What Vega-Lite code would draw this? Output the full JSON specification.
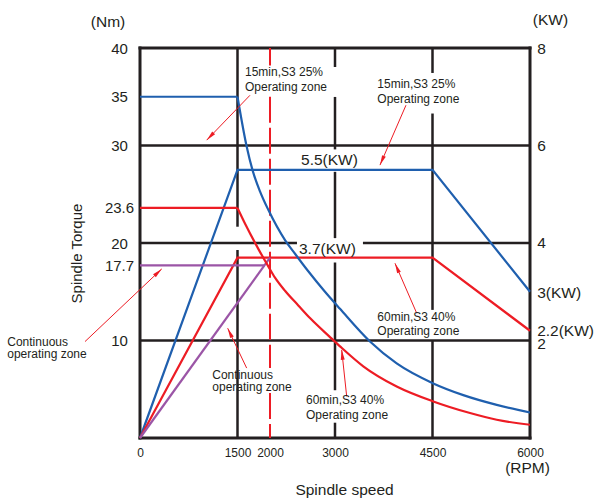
{
  "$schema": "https://vega.github.io/schema/vega-lite/v6.json",
  "width": 390,
  "height": 390,
  "autosize": {"type": "none"},
  "padding": {"left": 140, "top": 48, "right": 68, "bottom": 61},
  "background": "white",
  "config": {
    "font": "Liberation Sans",
    "view": {"stroke": null},
    "axis": {"labelColor": "#231f20", "titleColor": "#231f20"}
  },
  "datasets": {
    "frame": [
      {"rpm": 0, "rpm2": 6000, "nm": 0, "nm2": 0},
      {"rpm": 0, "rpm2": 6000, "nm": 40, "nm2": 40},
      {"rpm": 0, "rpm2": 0, "nm": 0, "nm2": 40},
      {"rpm": 6000, "rpm2": 6000, "nm": 0, "nm2": 40}
    ],
    "grid": [
      {"rpm": 0, "rpm2": 6000, "nm": 10, "nm2": 10},
      {"rpm": 0, "rpm2": 2415, "nm": 20, "nm2": 20},
      {"rpm": 3430, "rpm2": 6000, "nm": 20, "nm2": 20},
      {"rpm": 0, "rpm2": 6000, "nm": 30, "nm2": 30},
      {"rpm": 1500, "rpm2": 1500, "nm": 21.67, "nm2": 40},
      {"rpm": 1500, "rpm2": 1500, "nm": 0, "nm2": 19.28},
      {"rpm": 3000, "rpm2": 3000, "nm": 38.05, "nm2": 40},
      {"rpm": 3000, "rpm2": 3000, "nm": 29.6, "nm2": 34.98},
      {"rpm": 3000, "rpm2": 3000, "nm": 20.5, "nm2": 27.3},
      {"rpm": 3000, "rpm2": 3000, "nm": 4.9, "nm2": 18.0},
      {"rpm": 3000, "rpm2": 3000, "nm": 0, "nm2": 1.57},
      {"rpm": 4500, "rpm2": 4500, "nm": 37.44, "nm2": 40},
      {"rpm": 4500, "rpm2": 4500, "nm": 13.14, "nm2": 33.28},
      {"rpm": 4500, "rpm2": 4500, "nm": 0, "nm2": 10}
    ],
    "limit2000": [
      {"rpm": 2000, "rpm2": 2000, "nm": 40, "nm2": 38.2},
      {"rpm": 2000, "rpm2": 2000, "nm": 35.0, "nm2": 7.18},
      {"rpm": 2000, "rpm2": 2000, "nm": 4.61, "nm2": 0}
    ],
    "straight": [
      {"seg": "blue-flat", "zone": "S3 15min 25%", "i": 0, "rpm": 0, "nm": 35},
      {"seg": "blue-flat", "zone": "S3 15min 25%", "i": 1, "rpm": 1500, "nm": 35},
      {"seg": "blue-power", "zone": "S3 15min 25%", "i": 0, "rpm": 0, "nm": 0},
      {"seg": "blue-power", "zone": "S3 15min 25%", "i": 1, "rpm": 1500, "nm": 27.5},
      {"seg": "blue-power", "zone": "S3 15min 25%", "i": 2, "rpm": 4500, "nm": 27.5},
      {"seg": "blue-power", "zone": "S3 15min 25%", "i": 3, "rpm": 6000, "nm": 15},
      {"seg": "red-flat", "zone": "S3 60min 40%", "i": 0, "rpm": 0, "nm": 23.6},
      {"seg": "red-flat", "zone": "S3 60min 40%", "i": 1, "rpm": 1500, "nm": 23.6},
      {"seg": "red-power", "zone": "S3 60min 40%", "i": 0, "rpm": 0, "nm": 0},
      {"seg": "red-power", "zone": "S3 60min 40%", "i": 1, "rpm": 1500, "nm": 18.5},
      {"seg": "red-power", "zone": "S3 60min 40%", "i": 2, "rpm": 4500, "nm": 18.5},
      {"seg": "red-power", "zone": "S3 60min 40%", "i": 3, "rpm": 6000, "nm": 11},
      {"seg": "purple-flat", "zone": "Continuous", "i": 0, "rpm": 0, "nm": 17.7},
      {"seg": "purple-flat", "zone": "Continuous", "i": 1, "rpm": 1914, "nm": 17.7},
      {"seg": "purple-rise", "zone": "Continuous", "i": 0, "rpm": 0, "nm": 0},
      {"seg": "purple-rise", "zone": "Continuous", "i": 1, "rpm": 2000, "nm": 18.5}
    ],
    "curves": [
      {"zone": "S3 15min 25%", "rpm": 1500, "nm": 35.0},
      {"zone": "S3 15min 25%", "rpm": 1641, "nm": 29.9},
      {"zone": "S3 15min 25%", "rpm": 1730, "nm": 27.5},
      {"zone": "S3 15min 25%", "rpm": 1846, "nm": 25.3},
      {"zone": "S3 15min 25%", "rpm": 1974, "nm": 23.4},
      {"zone": "S3 15min 25%", "rpm": 2231, "nm": 20.3},
      {"zone": "S3 15min 25%", "rpm": 2385, "nm": 18.9},
      {"zone": "S3 15min 25%", "rpm": 2589, "nm": 17.1},
      {"zone": "S3 15min 25%", "rpm": 2846, "nm": 15.0},
      {"zone": "S3 15min 25%", "rpm": 3077, "nm": 13.25},
      {"zone": "S3 15min 25%", "rpm": 3538, "nm": 9.9},
      {"zone": "S3 15min 25%", "rpm": 3949, "nm": 7.65},
      {"zone": "S3 15min 25%", "rpm": 4512, "nm": 5.6},
      {"zone": "S3 15min 25%", "rpm": 4974, "nm": 4.4},
      {"zone": "S3 15min 25%", "rpm": 5488, "nm": 3.4},
      {"zone": "S3 15min 25%", "rpm": 6000, "nm": 2.62},
      {"zone": "S3 60min 40%", "rpm": 1500, "nm": 23.6},
      {"zone": "S3 60min 40%", "rpm": 1615, "nm": 22.0},
      {"zone": "S3 60min 40%", "rpm": 1820, "nm": 19.4},
      {"zone": "S3 60min 40%", "rpm": 1974, "nm": 17.6},
      {"zone": "S3 60min 40%", "rpm": 2077, "nm": 16.45},
      {"zone": "S3 60min 40%", "rpm": 2231, "nm": 15.1},
      {"zone": "S3 60min 40%", "rpm": 2435, "nm": 13.6},
      {"zone": "S3 60min 40%", "rpm": 2615, "nm": 12.3},
      {"zone": "S3 60min 40%", "rpm": 2923, "nm": 10.35},
      {"zone": "S3 60min 40%", "rpm": 3077, "nm": 9.4},
      {"zone": "S3 60min 40%", "rpm": 3435, "nm": 7.35},
      {"zone": "S3 60min 40%", "rpm": 3949, "nm": 5.28},
      {"zone": "S3 60min 40%", "rpm": 4512, "nm": 3.75},
      {"zone": "S3 60min 40%", "rpm": 5077, "nm": 2.56},
      {"zone": "S3 60min 40%", "rpm": 5488, "nm": 1.87},
      {"zone": "S3 60min 40%", "rpm": 6000, "nm": 1.36}
    ],
    "arrows": [
      {"id": "a1", "rpm": 1692, "nm": 35.15, "rpm2": 1026, "nm2": 30.55},
      {"id": "a2", "rpm": 4092, "nm": 34.13, "rpm2": 3692, "nm2": 27.99},
      {"id": "a3", "rpm": -846, "nm": 9.89, "rpm2": 334, "nm2": 17.34},
      {"id": "a4", "rpm": 1641, "nm": 7.17, "rpm2": 1349, "nm2": 11.26},
      {"id": "a5", "rpm": 4257, "nm": 12.8, "rpm2": 3923, "nm2": 17.92},
      {"id": "a6", "rpm": 3180, "nm": 4.26, "rpm2": 3103, "nm2": 9.04}
    ],
    "notes": [
      {"rpm": 1615, "nm": 37.54, "text": "15min,S3 25%"},
      {"rpm": 1615, "nm": 36.0, "text": "Operating zone"},
      {"rpm": 3651, "nm": 36.35, "text": "15min,S3 25%"},
      {"rpm": 3651, "nm": 34.75, "text": "Operating zone"},
      {"rpm": -2042, "nm": 9.83, "text": "Continuous"},
      {"rpm": -2042, "nm": 8.6, "text": "operating zone"},
      {"rpm": 1112, "nm": 6.48, "text": "Continuous"},
      {"rpm": 1112, "nm": 5.28, "text": "operating zone"},
      {"rpm": 3651, "nm": 12.45, "text": "60min,S3 40%"},
      {"rpm": 3651, "nm": 11.02, "text": "Operating zone"},
      {"rpm": 2554, "nm": 3.85, "text": "60min,S3 40%"},
      {"rpm": 2554, "nm": 2.39, "text": "Operating zone"}
    ],
    "leftlabels": [
      {"rpm": 2477, "nm": 28.53, "text": "5.5(KW)"},
      {"rpm": 2446, "nm": 19.39, "text": "3.7(KW)"},
      {"rpm": 6110, "nm": 39.9, "text": "8"},
      {"rpm": 6110, "nm": 30.0, "text": "6"},
      {"rpm": 6110, "nm": 20.0, "text": "4"},
      {"rpm": 6110, "nm": 14.88, "text": "3(KW)"},
      {"rpm": 6110, "nm": 11.0, "text": "2.2(KW)"},
      {"rpm": 6110, "nm": 9.66, "text": "2"}
    ],
    "units": [
      {"rpm": -492, "nm": 42.66, "text": "(Nm)"},
      {"rpm": 6315, "nm": 42.84, "text": "(KW)"},
      {"rpm": 5962, "nm": -3.07, "text": "(RPM)"}
    ]
  },
  "layer": [
    {
      "data": {"name": "grid"},
      "mark": {"type": "rule", "stroke": "#231f20", "strokeWidth": 2.5},
      "encoding": {
        "x": {
          "field": "rpm", "type": "quantitative",
          "scale": {"domain": [0, 6000], "nice": false, "zero": false},
          "axis": {
            "values": [0, 1500, 2000, 3000, 4500, 6000], "format": "d",
            "domain": false, "ticks": false, "tickSize": 0, "grid": false,
            "labelFontSize": 12, "labelPadding": 14, "labelBaseline": "middle",
            "labelFlush": false, "labelOverlap": false,
            "title": "Spindle speed", "titleFontSize": 15.5, "titleFontWeight": "normal",
            "titleX": 204, "titleY": 51, "titleBaseline": "middle", "titleAlign": "center"
          }
        },
        "x2": {"field": "rpm2"},
        "y": {
          "field": "nm", "type": "quantitative",
          "scale": {"domain": [0, 40], "nice": false, "zero": false},
          "axis": {
            "values": [10, 17.7, 20, 23.6, 30, 35, 40], "format": ".1~f",
            "domain": false, "ticks": false, "tickSize": 0, "grid": false,
            "labelFontSize": 15, "labelPadding": 21, "labelAlign": "center",
            "labelBaseline": "middle", "labelFlush": false, "labelOverlap": false,
            "title": "Spindle Torque", "titleFontSize": 15, "titleFontWeight": "normal",
            "titleX": -64, "titleY": 205, "titleAlign": "center", "titleBaseline": "middle", "titleAngle": 270
          }
        },
        "y2": {"field": "nm2"}
      }
    },
    {
      "data": {"name": "frame"},
      "mark": {"type": "rule", "stroke": "#231f20", "strokeWidth": 3, "strokeCap": "square"},
      "encoding": {
        "x": {"field": "rpm", "type": "quantitative"},
        "x2": {"field": "rpm2"},
        "y": {"field": "nm", "type": "quantitative"},
        "y2": {"field": "nm2"}
      }
    },
    {
      "data": {"name": "limit2000"},
      "mark": {"type": "rule", "stroke": "#ed1c24", "strokeWidth": 2, "strokeDash": [26, 5]},
      "encoding": {
        "x": {"field": "rpm", "type": "quantitative"},
        "x2": {"field": "rpm2"},
        "y": {"field": "nm", "type": "quantitative"},
        "y2": {"field": "nm2"}
      }
    },
    {
      "data": {"name": "straight"},
      "mark": {"type": "line", "strokeWidth": 2.2, "interpolate": "linear"},
      "encoding": {
        "x": {"field": "rpm", "type": "quantitative"},
        "y": {"field": "nm", "type": "quantitative"},
        "detail": {"field": "seg"},
        "order": {"field": "i"},
        "color": {
          "field": "zone", "type": "nominal",
          "scale": {"domain": ["S3 15min 25%", "S3 60min 40%", "Continuous"], "range": ["#1f5fae", "#ed1c24", "#9b55a6"]},
          "legend": null
        }
      }
    },
    {
      "data": {"name": "curves"},
      "mark": {"type": "line", "strokeWidth": 2.2, "interpolate": "monotone"},
      "encoding": {
        "x": {"field": "rpm", "type": "quantitative"},
        "y": {"field": "nm", "type": "quantitative"},
        "color": {"field": "zone", "type": "nominal", "legend": null}
      }
    },
    {
      "data": {"name": "arrows"},
      "mark": {"type": "rule", "stroke": "#ed1c24", "strokeWidth": 1},
      "encoding": {
        "x": {"field": "rpm", "type": "quantitative"},
        "x2": {"field": "rpm2"},
        "y": {"field": "nm", "type": "quantitative"},
        "y2": {"field": "nm2"}
      }
    },
    {
      "data": {"name": "arrows"},
      "transform": [{"filter": "datum.id === 'a1'"}],
      "mark": {"type": "point", "shape": "M0,0L0.4,2L-0.4,2Z", "size": 100, "filled": true, "fill": "#ed1c24", "strokeWidth": 0, "opacity": 1, "angle": 224},
      "encoding": {"x": {"field": "rpm2", "type": "quantitative"}, "y": {"field": "nm2", "type": "quantitative"}}
    },
    {
      "data": {"name": "arrows"},
      "transform": [{"filter": "datum.id === 'a2'"}],
      "mark": {"type": "point", "shape": "M0,0L0.4,2L-0.4,2Z", "size": 100, "filled": true, "fill": "#ed1c24", "strokeWidth": 0, "opacity": 1, "angle": 203.4},
      "encoding": {"x": {"field": "rpm2", "type": "quantitative"}, "y": {"field": "nm2", "type": "quantitative"}}
    },
    {
      "data": {"name": "arrows"},
      "transform": [{"filter": "datum.id === 'a3'"}],
      "mark": {"type": "point", "shape": "M0,0L0.4,2L-0.4,2Z", "size": 100, "filled": true, "fill": "#ed1c24", "strokeWidth": 0, "opacity": 1, "angle": 46.5},
      "encoding": {"x": {"field": "rpm2", "type": "quantitative"}, "y": {"field": "nm2", "type": "quantitative"}}
    },
    {
      "data": {"name": "arrows"},
      "transform": [{"filter": "datum.id === 'a4'"}],
      "mark": {"type": "point", "shape": "M0,0L0.4,2L-0.4,2Z", "size": 100, "filled": true, "fill": "#ed1c24", "strokeWidth": 0, "opacity": 1, "angle": 334.6},
      "encoding": {"x": {"field": "rpm2", "type": "quantitative"}, "y": {"field": "nm2", "type": "quantitative"}}
    },
    {
      "data": {"name": "arrows"},
      "transform": [{"filter": "datum.id === 'a5'"}],
      "mark": {"type": "point", "shape": "M0,0L0.4,2L-0.4,2Z", "size": 100, "filled": true, "fill": "#ed1c24", "strokeWidth": 0, "opacity": 1, "angle": 336.5},
      "encoding": {"x": {"field": "rpm2", "type": "quantitative"}, "y": {"field": "nm2", "type": "quantitative"}}
    },
    {
      "data": {"name": "arrows"},
      "transform": [{"filter": "datum.id === 'a6'"}],
      "mark": {"type": "point", "shape": "M0,0L0.4,2L-0.4,2Z", "size": 100, "filled": true, "fill": "#ed1c24", "strokeWidth": 0, "opacity": 1, "angle": 353.9},
      "encoding": {"x": {"field": "rpm2", "type": "quantitative"}, "y": {"field": "nm2", "type": "quantitative"}}
    },
    {
      "data": {"name": "notes"},
      "mark": {"type": "text", "align": "left", "baseline": "middle", "fontSize": 12, "fill": "#231f20"},
      "encoding": {
        "x": {"field": "rpm", "type": "quantitative"},
        "y": {"field": "nm", "type": "quantitative"},
        "text": {"field": "text"}
      }
    },
    {
      "data": {"name": "leftlabels"},
      "mark": {"type": "text", "align": "left", "baseline": "middle", "fontSize": 15.5, "fill": "#231f20"},
      "encoding": {
        "x": {"field": "rpm", "type": "quantitative"},
        "y": {"field": "nm", "type": "quantitative"},
        "text": {"field": "text"}
      }
    },
    {
      "data": {"name": "units"},
      "mark": {"type": "text", "align": "center", "baseline": "middle", "fontSize": 15.5, "fill": "#231f20"},
      "encoding": {
        "x": {"field": "rpm", "type": "quantitative"},
        "y": {"field": "nm", "type": "quantitative"},
        "text": {"field": "text"}
      }
    }
  ]
}
